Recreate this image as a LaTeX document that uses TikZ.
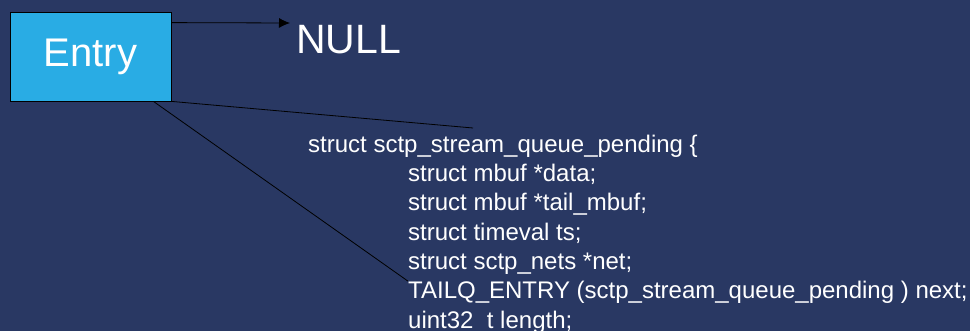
\documentclass[tikz,border=0pt]{standalone}
\usepackage{fontspec}
\setmainfont{Liberation Sans}
\usepackage{tikz}
\usetikzlibrary{positioning,arrows.meta}

\definecolor{slidebg}{RGB}{41,56,99}
\definecolor{entryblue}{RGB}{41,172,228}

\tikzset{
  entrybox/.style={draw=black,line width=0.8pt,fill=entryblue,text=white,
    minimum width=161pt,minimum height=89pt,inner sep=0pt,
    font=\fontsize{40}{48}\selectfont},
  bigword/.style={text=white,inner sep=0pt,anchor=base west,
    font=\fontsize{41}{49}\selectfont},
  codeline/.style={text=white,inner sep=0pt,anchor=base west,
    font=\fontsize{24}{28}\selectfont},
  link/.style={black,line width=0.8pt}
}

\begin{document}
\begin{tikzpicture}[x=1pt,y=-1pt,>={Latex[length=11pt,width=10pt]}]

\useasboundingbox (0,0) rectangle (970,331);
\clip (0,0) rectangle (970,331);
\fill[slidebg] (0,0) rectangle (970,331);

\node[entrybox] (entry) at (90.5,56.5) {Entry};
\node[bigword] (null) at (296,54) {NULL};

% the struct, line by line
\node[codeline] (l1) at (308,152.5) {struct sctp\_stream\_queue\_pending \{};
\node[codeline] (l2) at (408,181.75) {struct mbuf *data;};
\node[codeline] (l3) at (408,211) {struct mbuf *tail\_mbuf;};
\node[codeline] (l4) at (408,240.25) {struct timeval ts;};
\node[codeline] (l5) at (408,269.5) {struct sctp\_nets *net;};
\node[codeline] (l6) at (408,298.75) {TAILQ\_ENTRY (sctp\_stream\_queue\_pending ) next;};
\node[codeline] (l7) at (408,328) {uint32\_t length;};

\coordinate (nulltip) at (290,23);
\coordinate (structtop) at (473,128);

\draw[link,->] ([yshift=-11pt]entry.north east) -- (nulltip);
\draw[link] (entry.south east) -- (structtop);
\draw[link] ([xshift=-18pt]entry.south east) -- (l6.north west);

\end{tikzpicture}
\end{document}
